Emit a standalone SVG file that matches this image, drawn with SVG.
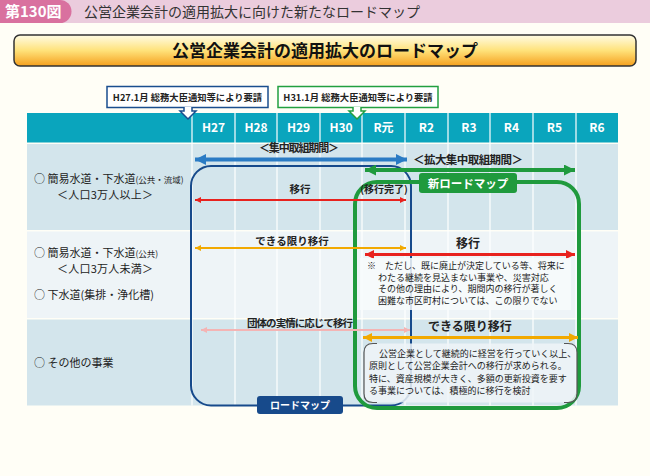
<svg xmlns="http://www.w3.org/2000/svg" width="650" height="476" viewBox="0 0 650 476">
<style>
text{font-family:"Noto Sans CJK JP","Noto Sans",sans-serif;fill:#222}
.yr{fill:#fff;font-size:12px;font-weight:bold;text-anchor:middle}
.lbl{font-size:11px}
.sm{font-size:8.5px}
.bar{font-size:10.5px;font-weight:bold;text-anchor:middle}
.note{font-size:9px}
.col{stroke:#fff;stroke-width:1.2}
</style>
<defs>
<linearGradient id="tg" x1="0" y1="0" x2="0" y2="1">
<stop offset="0" stop-color="#FFFCE6"/>
<stop offset="0.5" stop-color="#FFE27A"/>
<stop offset="1" stop-color="#F5A01E"/>
</linearGradient>
<marker id="mBlue" viewBox="0 0 10 10" refX="10" refY="5" markerUnits="userSpaceOnUse" markerWidth="12" markerHeight="11" orient="auto-start-reverse"><path d="M0,0L10,5L0,10z" fill="#2A7BC4"/></marker>
<marker id="mGreen" viewBox="0 0 10 10" refX="10" refY="5" markerUnits="userSpaceOnUse" markerWidth="12" markerHeight="11" orient="auto-start-reverse"><path d="M0,0L10,5L0,10z" fill="#1F9A3D"/></marker>
<marker id="mRed" viewBox="0 0 10 10" refX="10" refY="5" markerUnits="userSpaceOnUse" markerWidth="7" markerHeight="6" orient="auto-start-reverse"><path d="M0,0L10,5L0,10z" fill="#E8221E"/></marker>
<marker id="mRedT" viewBox="0 0 10 10" refX="10" refY="5" markerUnits="userSpaceOnUse" markerWidth="10" markerHeight="9" orient="auto-start-reverse"><path d="M0,0L10,5L0,10z" fill="#E8221E"/></marker>
<marker id="mOr" viewBox="0 0 10 10" refX="10" refY="5" markerUnits="userSpaceOnUse" markerWidth="7" markerHeight="6" orient="auto-start-reverse"><path d="M0,0L10,5L0,10z" fill="#F2A900"/></marker>
<marker id="mOrT" viewBox="0 0 10 10" refX="10" refY="5" markerUnits="userSpaceOnUse" markerWidth="10" markerHeight="9" orient="auto-start-reverse"><path d="M0,0L10,5L0,10z" fill="#F2A900"/></marker>
<marker id="mPink" viewBox="0 0 10 10" refX="10" refY="5" markerUnits="userSpaceOnUse" markerWidth="7" markerHeight="6" orient="auto-start-reverse"><path d="M0,0L10,5L0,10z" fill="#F4B4B4"/></marker>
</defs>

<rect width="650" height="476" fill="#FFFEF6"/>

<!-- banner -->
<g id="banner">
<rect x="0" y="0" width="650" height="23" fill="#EBCCDD"/>
<path d="M0,0H60A11.5,11.5 0 0 1 60,23H0z" fill="#D9719F"/>
<text x="5" y="17" style="fill:#fff;font-size:15px;font-weight:bold">第130図</text>
<text x="84" y="17" style="font-size:14px;fill:#333">公営企業会計の適用拡大に向けた新たなロードマップ</text>
</g>

<!-- main title -->
<g id="title">
<rect x="14" y="35" width="622" height="31" rx="6" fill="url(#tg)" stroke="#333" stroke-width="1.5"/>
<text x="325" y="57" style="font-size:17px;font-weight:bold;text-anchor:middle;fill:#111">公営企業会計の適用拡大のロードマップ</text>
</g>

<!-- table -->
<g id="table">
<rect x="27" y="113" width="591" height="29.5" fill="#0AA5BD"/>
<rect x="27" y="144" width="591" height="86" fill="#D3E5EC"/>
<rect x="27" y="231.5" width="591" height="86.5" fill="#EEF4F7"/>
<rect x="27" y="319.5" width="591" height="86" fill="#D3E5EC"/>
<g class="col">
<line x1="192" y1="113" x2="192" y2="405.5"/>
<line x1="235" y1="113" x2="235" y2="405.5"/>
<line x1="277" y1="113" x2="277" y2="405.5"/>
<line x1="320" y1="113" x2="320" y2="405.5"/>
<line x1="362" y1="113" x2="362" y2="405.5"/>
<line x1="405" y1="113" x2="405" y2="405.5"/>
<line x1="448" y1="113" x2="448" y2="405.5"/>
<line x1="490" y1="113" x2="490" y2="405.5"/>
<line x1="533" y1="113" x2="533" y2="405.5"/>
<line x1="576" y1="113" x2="576" y2="405.5"/>
</g>
<text class="yr" x="213.5" y="132">H27</text>
<text class="yr" x="256" y="132">H28</text>
<text class="yr" x="298.5" y="132">H29</text>
<text class="yr" x="341" y="132">H30</text>
<text class="yr" x="383.5" y="132">R元</text>
<text class="yr" x="426.5" y="132">R2</text>
<text class="yr" x="469" y="132">R3</text>
<text class="yr" x="511.5" y="132">R4</text>
<text class="yr" x="554.5" y="132">R5</text>
<text class="yr" x="597" y="132">R6</text>
</g>

<!-- row labels -->
<g id="labels">
<text class="lbl" x="34" y="182.5">○ 簡易水道・下水道<tspan class="sm">(公共・流域)</tspan></text>
<text class="lbl" x="57" y="198.5" textLength="96">＜人口3万人以上＞</text>
<text class="lbl" x="34" y="256.5">○ 簡易水道・下水道<tspan class="sm">(公共)</tspan></text>
<text class="lbl" x="57" y="272.5" textLength="96">＜人口3万人未満＞</text>
<text class="lbl" x="34" y="299">○ 下水道(集排・浄化槽)</text>
<text class="lbl" x="34" y="367">○ その他の事業</text>
</g>

<!-- callouts -->
<g id="callout1">
<rect x="107" y="86.5" width="161" height="21" fill="#fff" stroke="#1A4E8E" stroke-width="1.5"/>
<path d="M184,107V111H180L188,119L196,111H192V107" fill="#fff" stroke="#1A4E8E" stroke-width="1.5"/>
<text x="187.5" y="101" style="font-size:9.3px;font-weight:bold;text-anchor:middle">H27.1月 総務大臣通知等により要請</text>
</g>
<g id="callout2">
<rect x="278" y="86.5" width="160" height="21" fill="#fff" stroke="#22A040" stroke-width="1.5"/>
<path d="M353,107V111H349L357,119L365,111H361V107" fill="#fff" stroke="#22A040" stroke-width="1.5"/>
<text x="358" y="101" style="font-size:9.3px;font-weight:bold;text-anchor:middle">H31.1月 総務大臣通知等により要請</text>
</g>

<!-- roadmap frames -->
<g id="roadmap">
<rect x="191" y="166" width="220" height="239.5" rx="20" fill="none" stroke="#174A8B" stroke-width="2"/>
</g>
<g id="newroadmap">
<rect x="355" y="182" width="224" height="226" rx="22" fill="none" stroke="#1F9A3D" stroke-width="4"/>
</g>

<!-- connectors / arrows -->
<g id="connectors">
<line x1="195" y1="159.5" x2="407" y2="159.5" stroke="#2A7BC4" stroke-width="4" marker-start="url(#mBlue)" marker-end="url(#mBlue)"/>
<line x1="365" y1="170" x2="575" y2="170" stroke="#1F9A3D" stroke-width="4" marker-start="url(#mGreen)" marker-end="url(#mGreen)"/>
<line x1="195" y1="200" x2="406" y2="200" stroke="#E8221E" stroke-width="1.8" marker-start="url(#mRed)" marker-end="url(#mRed)"/>
<line x1="195" y1="248" x2="406" y2="248" stroke="#F2A900" stroke-width="1.8" marker-start="url(#mOr)" marker-end="url(#mOr)"/>
<line x1="365" y1="254.5" x2="575" y2="254.5" stroke="#E8221E" stroke-width="3" marker-start="url(#mRedT)" marker-end="url(#mRedT)"/>
<line x1="201" y1="330" x2="410" y2="330" stroke="#F4B4B4" stroke-width="1.8" marker-start="url(#mPink)" marker-end="url(#mPink)"/>
<line x1="363" y1="337.5" x2="578" y2="337.5" stroke="#F2A900" stroke-width="3" marker-start="url(#mOrT)" marker-end="url(#mOrT)"/>
</g>

<!-- bar labels -->
<g id="barlabels">
<text class="bar" x="299" y="152" style="font-size:11px" textLength="80">＜集中取組期間＞</text>
<text class="bar" x="468" y="164" style="font-size:11.5px" textLength="110">＜拡大集中取組期間＞</text>
<text class="bar" x="300" y="193">移行</text>
<text class="bar" x="384" y="193" style="font-size:10px">(移行完了)</text>
<text class="bar" x="292" y="245">できる限り移行</text>
<text class="bar" x="468" y="248" style="font-size:12px">移行</text>
<text class="bar" x="300" y="327" textLength="106">団体の実情に応じて移行</text>
<text class="bar" x="470" y="331" style="font-size:12px">できる限り移行</text>
</g>

<!-- notes -->
<g id="note1">
<rect x="360" y="258" width="211" height="52" fill="#F7FAFC" opacity="0.85"/>
<text class="note" x="367" y="269">※　ただし、既に廃止が決定している等、将来に</text>
<text class="note" x="378" y="280.7">わたる継続を見込まない事業や、災害対応</text>
<text class="note" x="378" y="292.4">その他の理由により、期間内の移行が著しく</text>
<text class="note" x="378" y="304.1">困難な市区町村については、この限りでない</text>
</g>
<g id="note2">
<rect x="364" y="343.5" width="213" height="59" rx="9" fill="#EEF5F8" opacity="0.85"/>
<path d="M377,343.5H373Q364,343.5 364,352.5V393.5Q364,402.5 373,402.5H377M564,343.5H568Q577,343.5 577,352.5V393.5Q577,402.5 568,402.5H564" fill="none" stroke="#555" stroke-width="1.2"/>
<text class="note" x="379" y="357">公営企業として継続的に経営を行っていく以上、</text>
<text class="note" x="369" y="369.3">原則として公営企業会計への移行が求められる。</text>
<text class="note" x="369" y="381.6">特に、資産規模が大きく、多額の更新投資を要す</text>
<text class="note" x="369" y="393.9">る事業については、積極的に移行を検討</text>
</g>

<!-- tags -->
<g id="tag-new">
<rect x="419" y="173" width="98" height="20" rx="3" fill="#1F9A3D"/>
<text x="468" y="187.5" style="fill:#fff;font-size:11.5px;font-weight:bold;text-anchor:middle">新ロードマップ</text>
</g>
<g id="tag-old">
<rect x="257" y="396" width="86" height="18" rx="3" fill="#174A8B"/>
<text x="300" y="409" style="fill:#fff;font-size:10px;font-weight:bold;text-anchor:middle">ロードマップ</text>
</g>
</svg>
